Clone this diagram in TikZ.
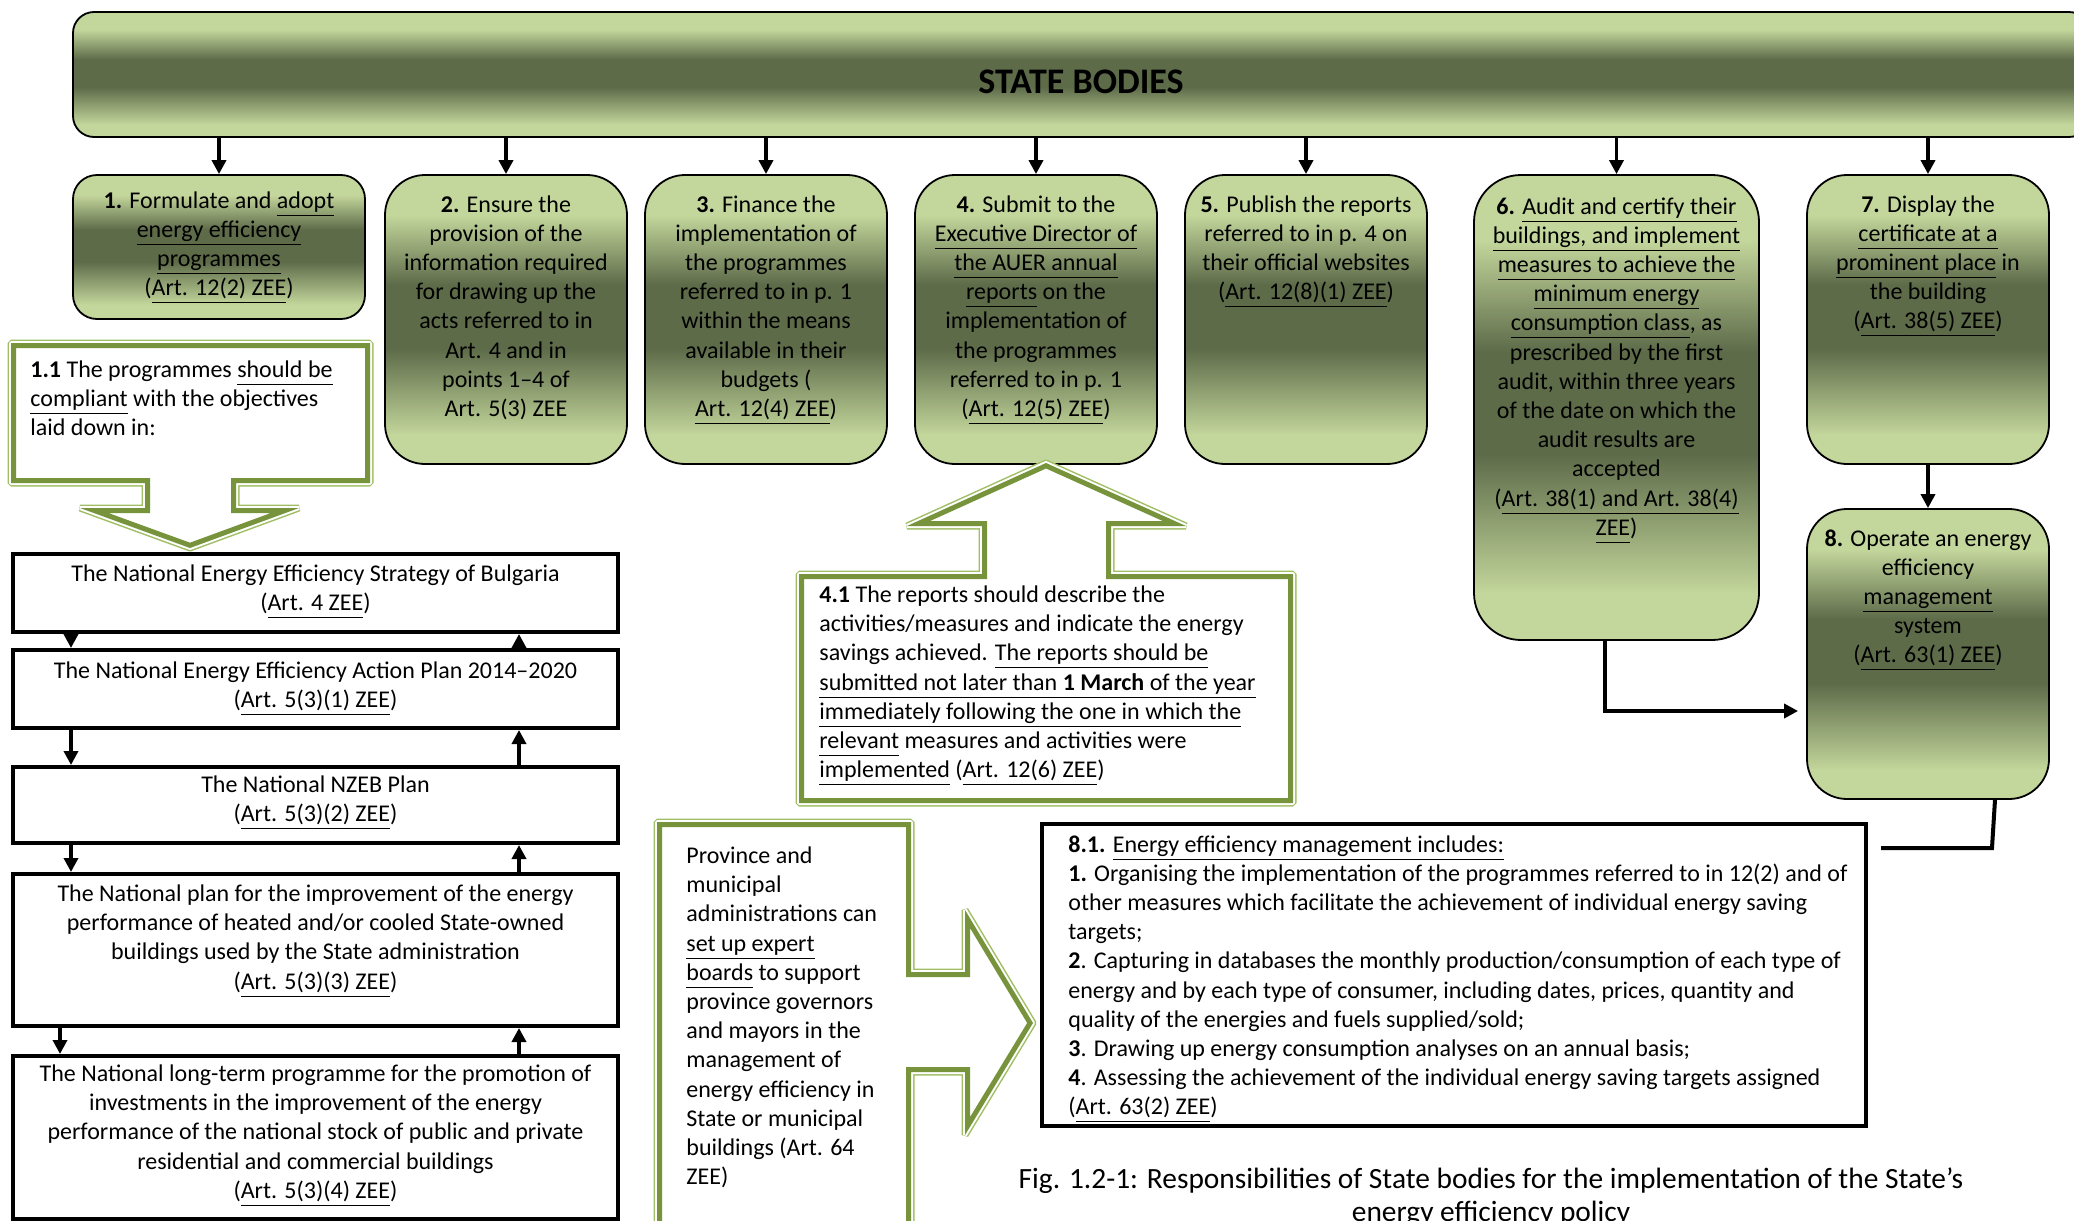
\documentclass[tikz,border=0pt]{standalone}
\usepackage{fontspec}
\setmainfont{Carlito}
\usetikzlibrary{arrows.meta}

\definecolor{lgreen}{RGB}{195,214,155}
\definecolor{dgreen}{RGB}{93,107,73}
\definecolor{cgreen}{RGB}{119,147,60}
\definecolor{pgreen}{RGB}{160,190,100}
\pgfdeclareverticalshading{oliveband}{100bp}{color(0bp)=(lgreen); color(30bp)=(lgreen); color(45bp)=(dgreen); color(56bp)=(dgreen); color(68bp)=(lgreen); color(100bp)=(lgreen)}

\newcommand{\un}[1]{\underline{#1\vphantom{g}}}
\newcommand{\callout}[1]{%
  \fill[white] #1;
  \draw[pgreen, line width=3.5pt, line join=bevel] #1;
  \draw[white, line width=2pt, line join=bevel] #1;
  \begin{scope}
    \clip #1;
    \draw[cgreen, line width=5pt] #1;
  \end{scope}}

\begin{document}
\begin{tikzpicture}[x=0.5pt, y=-0.5pt,
    every node/.style={inner sep=0pt, font=\fontsize{12}{14.6}\selectfont},
    gbox/.style={draw=black, line width=0.9pt, shade, shading=oliveband, rounded corners=20pt, minimum width=121pt, minimum height=144.5pt},
    btext/.style={align=center},
    lbox/.style={draw=black, line width=2pt, fill=white, minimum width=302.5pt},
    arr/.style={line width=1.8pt, -{Triangle[length=7pt,width=7pt]}}]
\useasboundingbox (0,0) rectangle (2074,1221);
\clip (0,0) rectangle (2074,1221);

% state bodies
\node[gbox, minimum width=1008.5pt, minimum height=62.5pt, rounded corners=10.5pt] (banner) at (1081.5,74.5) {};
\node[font=\fontsize{18}{20}\selectfont\bfseries] (title) at (1081,82) {STATE BODIES};

% responsibilities
\node[gbox, minimum width=146pt, minimum height=72pt, rounded corners=12pt] (b1) at (219,247) {};
\node[gbox] (b2) at (506,319.5) {};
\node[gbox] (b3) at (766,319.5) {};
\node[gbox] (b4) at (1036,319.5) {};
\node[gbox] (b5) at (1306,319.5) {};
\node[gbox, minimum width=142.5pt, minimum height=232.5pt, rounded corners=23.5pt] (b6) at (1616.5,407.5) {};
\node[gbox] (b7) at (1928,319.5) {};
\node[gbox, minimum height=145pt] (b8) at (1928,654) {};

\node[btext, below=8.5pt] (t1) at (b1.north) {\textbf{1.} Formulate and \un{adopt}\\\un{energy efficiency}\\\un{programmes}\\(\un{Art. 12(2) ZEE})};
\node[btext, below=10.5pt] (t2) at (b2.north) {\textbf{2.} Ensure the\\provision of the\\information required\\for drawing up the\\acts referred to in\\Art. 4 and in\\points 1--4 of\\Art. 5(3) ZEE};
\node[btext, below=10.5pt] (t3) at (b3.north) {\textbf{3.} Finance the\\implementation of\\the programmes\\referred to in p. 1\\within the means\\available in their\\budgets (\\\un{Art. 12(4) ZEE})};
\node[btext, below=10.5pt] (t4) at (b4.north) {\textbf{4.} Submit to the\\\un{Executive Director of}\\\un{the AUER annual}\\\un{reports} on the\\implementation of\\the programmes\\referred to in p. 1\\(\un{Art. 12(5) ZEE})};
\node[btext, below=10.5pt] (t5) at (b5.north) {\textbf{5.} Publish the reports\\referred to in p. 4 on\\their official websites\\(\un{Art. 12(8)(1) ZEE})};
\node[btext, below=11.5pt] (t6) at (b6.north) {\textbf{6.} \un{Audit and certify their}\\\un{buildings, and implement}\\\un{measures to achieve the}\\\un{minimum energy}\\\un{consumption class}, as\\prescribed by the first\\audit, within three years\\of the date on which the\\audit results are\\accepted\\(\un{Art. 38(1) and Art. 38(4)}\\\un{ZEE})};
\node[btext, below=10.5pt] (t7) at (b7.north) {\textbf{7.} Display the\\\un{certificate at a}\\\un{prominent place} in\\the building\\(\un{Art. 38(5) ZEE})};
\node[btext, below=10.5pt] (t8) at (b8.north) {\textbf{8.} Operate an energy\\efficiency\\\un{management}\\system\\(\un{Art. 63(1) ZEE})};

% callouts
\callout{(11,343) -- (370,343) -- (370,483) -- (236,483) -- (236,508) -- (299,508) -- (190,548) -- (80,508) -- (145,508) -- (145,483) -- (11,483) -- cycle}
\callout{(799,574) -- (982,574) -- (982,526) -- (907,526) -- (1046,463) -- (1186,526) -- (1111,526) -- (1111,574) -- (1293,574) -- (1293,803) -- (799,803) -- cycle}
\callout{(657,822) -- (911,822) -- (911,972) -- (965,972) -- (965,910) -- (1033,1023) -- (965,1135) -- (965,1072) -- (911,1072) -- (911,1240) -- (657,1240) -- cycle}

\node[anchor=north west, align=left] (t11) at (30,360) {\textbf{1.1} The programmes \un{should be}\\\un{compliant} with the objectives\\laid down in:};
\node[anchor=north west, align=left] (t41) at (819,585.5) {\textbf{4.1} The reports should describe the\\activities/measures and indicate the energy\\savings achieved. \un{The reports should be}\\\un{submitted not later than \textbf{1 March} of the year}\\\un{immediately following the one in which the}\\\un{relevant} measures and activities were\\\un{implemented} (\un{Art. 12(6) ZEE})};
\node[anchor=north west, align=left] (tprov) at (686,846.5) {Province and\\municipal\\administrations can\\\un{set up expert}\\\un{boards} to support\\province governors\\and mayors in the\\management of\\energy efficiency in\\State or municipal\\buildings (Art. 64\\ZEE)};

% national documents
\node[lbox, minimum height=39pt] (s1) at (315.5,593) {};
\node[lbox, minimum height=39pt] (s2) at (315.5,689) {};
\node[lbox, minimum height=38pt] (s3) at (315.5,805) {};
\node[lbox, minimum height=76pt] (s4) at (315.5,950) {};
\node[lbox, minimum height=81.5pt] (s5) at (315.5,1137.5) {};

\node[btext, below=6pt] (ts1) at (s1.north) {The National Energy Efficiency Strategy of Bulgaria\\(\un{Art. 4 ZEE})};
\node[btext, below=6.5pt] (ts2) at (s2.north) {The National Energy Efficiency Action Plan 2014--2020\\(\un{Art. 5(3)(1) ZEE})};
\node[btext, below=5.25pt] (ts3) at (s3.north) {The National NZEB Plan\\(\un{Art. 5(3)(2) ZEE})};
\node[btext, below=6.25pt] (ts4) at (s4.north) {The National plan for the improvement of the energy\\performance of heated and/or cooled State-owned\\buildings used by the State administration\\(\un{Art. 5(3)(3) ZEE})};
\node[btext, below=5.25pt] (ts5) at (s5.north) {The National long-term programme for the promotion of\\investments in the improvement of the energy\\performance of the national stock of public and private\\residential and commercial buildings\\(\un{Art. 5(3)(4) ZEE})};

% management
\node[lbox, minimum width=412pt, minimum height=151pt] (m81) at (1454,975) {};
\node[anchor=north west, align=left] (t81) at (1068,835) {\textbf{8.1.} \un{Energy efficiency management includes:}\\\textbf{1.} Organising the implementation of the programmes referred to in 12(2) and of\\other measures which facilitate the achievement of individual energy saving\\targets;\\\textbf{2}. Capturing in databases the monthly production/consumption of each type of\\energy and by each type of consumer, including dates, prices, quantity and\\quality of the energies and fuels supplied/sold;\\\textbf{3}. Drawing up energy consumption analyses on an annual basis;\\\textbf{4}. Assessing the achievement of the individual energy saving targets assigned\\(\un{Art. 63(2) ZEE})};

\node[anchor=north, align=center, font=\fontsize{14.7}{16.5}\selectfont] (cap) at (1491,1167) {Fig. 1.2-1: Responsibilities of State bodies for the implementation of the State’s\\energy efficiency policy};

% connectors
\foreach \b in {b1,b2,b3,b4,b5,b6,b7}
  \draw[arr] (banner.south -| \b.north) -- (\b.north);
\draw[arr] (b7.south) -- (b8.north);
\draw[arr, line width=2pt] ([xshift=-6pt]b6.south) |- ([xshift=-4pt,yshift=-28.5pt]b8.west);
\coordinate (k1) at (1992,848);
\coordinate (k2) at (1881,848);
\draw[line width=2pt] ([xshift=33.5pt]b8.south) -- (k1) -- (k2);

\foreach \u/\l in {s1/s2,s2/s3,s3/s4}
  \draw[arr] ([xshift=30pt]\u.south west) -- ([xshift=30pt]\l.north west);
\draw[arr] ([xshift=24.5pt]s4.south west) -- ([xshift=24.5pt]s5.north west);
\foreach \u/\l in {s1/s2,s2/s3,s3/s4,s4/s5}
  \draw[arr] ([xshift=254pt]\l.north west) -- ([xshift=254pt]\u.south west);

\end{tikzpicture}
\end{document}
